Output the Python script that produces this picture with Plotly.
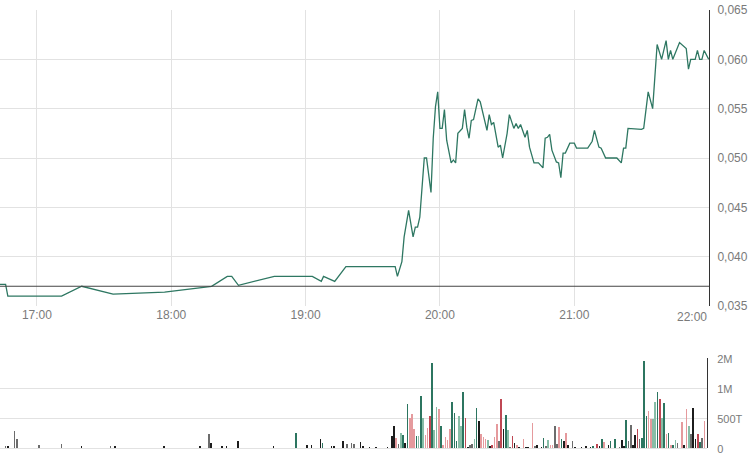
import pandas as pd
import plotly.graph_objects as go

DAY = "2024-05-17 "

# ---------------- price line ----------------
price_times = [
    "16:43", "16:46", "16:47", "17:11", "17:20", "17:34", "17:57", "18:08", "18:18", "18:25",
    "18:27", "18:30", "18:46", "19:03", "19:07", "19:08", "19:13", "19:18", "19:40", "19:41",
    "19:43", "19:44", "19:46", "19:48", "19:49", "19:50", "19:51", "19:53", "19:54", "19:56",
    "19:57", "19:58", "19:59", "20:00", "20:01", "20:02", "20:03", "20:05", "20:06", "20:07",
    "20:08", "20:10", "20:11", "20:12", "20:13", "20:14", "20:15", "20:17", "20:18", "20:21",
    "20:22", "20:23", "20:24", "20:26", "20:27", "20:28", "20:30", "20:31", "20:33", "20:34",
    "20:35", "20:36", "20:37", "20:38", "20:39", "20:40", "20:42", "20:44", "20:46", "20:47",
    "20:48", "20:49", "20:50", "20:52", "20:53", "20:54", "20:55", "20:56", "20:58", "21:00",
    "21:01", "21:06", "21:08", "21:09", "21:11", "21:12", "21:14", "21:19", "21:21", "21:22",
    "21:23", "21:24", "21:30", "21:31", "21:33", "21:35", "21:37", "21:39", "21:41", "21:42",
    "21:43", "21:44", "21:47", "21:50", "21:51", "21:52", "21:54", "21:55", "21:56", "21:57",
    "21:58", "22:00",
]
price_values = [
    0.0372, 0.0372, 0.0360, 0.0360, 0.0370, 0.0362, 0.0364, 0.0367, 0.0370, 0.0380,
    0.0380, 0.0371, 0.0380, 0.0380, 0.0375, 0.0380, 0.0375, 0.0390, 0.0390, 0.0380,
    0.0395, 0.0420, 0.0447, 0.0420, 0.0430, 0.0430, 0.0440, 0.0500, 0.0500, 0.0465,
    0.0520, 0.0552, 0.0567, 0.0530, 0.0530, 0.0549, 0.0518, 0.0495, 0.0498, 0.0495,
    0.0525, 0.0530, 0.0549, 0.0531, 0.0520, 0.0538, 0.0539, 0.0560, 0.0557, 0.0528,
    0.0544, 0.0534, 0.0536, 0.0511, 0.0513, 0.0500, 0.0525, 0.0544, 0.0530, 0.0535,
    0.0530, 0.0534, 0.0528, 0.0521, 0.0528, 0.0511, 0.0495, 0.0495, 0.0490, 0.0520,
    0.0521, 0.0524, 0.0508, 0.0496, 0.0495, 0.0480, 0.0505, 0.0505, 0.0515, 0.0515,
    0.0510, 0.0510, 0.0517, 0.0528, 0.0511, 0.0510, 0.0500, 0.0500, 0.0495, 0.0510,
    0.0510, 0.0530, 0.0529, 0.0530, 0.0567, 0.0550, 0.0615, 0.0600, 0.0619, 0.0600,
    0.0609, 0.0600, 0.0617, 0.0611, 0.0590, 0.0600, 0.0600, 0.0609, 0.0600, 0.0600,
    0.0609, 0.0600,
]
prev_close = 0.037

# ---------------- volume bars (values in thousands) ----------------
vol_times = [
    "16:46", "16:47", "16:50", "16:51", "17:01", "17:11", "17:20", "17:33", "17:35", "17:57",
    "18:13", "18:17", "18:18", "18:23", "18:25", "18:30", "18:46", "18:56", "19:01", "19:03",
    "19:07", "19:08", "19:12", "19:13", "19:17", "19:19", "19:21", "19:22", "19:25", "19:26",
    "19:29", "19:32", "19:37", "19:39", "19:40", "19:41", "19:42", "19:43", "19:44", "19:45",
    "19:46", "19:47", "19:48", "19:49", "19:50", "19:51", "19:52", "19:53", "19:54", "19:55",
    "19:56", "19:57", "19:58", "19:59", "20:00", "20:01", "20:02", "20:03", "20:04", "20:05",
    "20:06", "20:07", "20:08", "20:09", "20:10", "20:11", "20:12", "20:13", "20:14", "20:15",
    "20:16", "20:17", "20:18", "20:19", "20:20", "20:21", "20:22", "20:23", "20:24", "20:25",
    "20:26", "20:27", "20:28", "20:29", "20:30", "20:31", "20:32", "20:33", "20:34", "20:35",
    "20:36", "20:38", "20:39", "20:40", "20:42", "20:43", "20:44", "20:46", "20:47", "20:48",
    "20:49", "20:50", "20:51", "20:52", "20:53", "20:54", "20:55", "20:56", "20:57", "20:58",
    "21:00", "21:01", "21:04", "21:06", "21:08", "21:09", "21:11", "21:12", "21:13", "21:14",
    "21:16", "21:17", "21:19", "21:21", "21:22", "21:23", "21:24", "21:25", "21:26", "21:27",
    "21:28", "21:29", "21:30", "21:31", "21:32", "21:33", "21:34", "21:35", "21:36", "21:37",
    "21:38", "21:39", "21:40", "21:41", "21:42", "21:43", "21:44", "21:45", "21:46", "21:47",
    "21:49", "21:50", "21:51", "21:52", "21:53", "21:54", "21:55", "21:56", "21:57", "21:58",
    "21:59",
]
vol_values = [
    33, 33, 283, 150, 50, 67, 33, 33, 33, 33,
    33, 233, 83, 33, 33, 117, 33, 250, 50, 50,
    150, 83, 33, 33, 117, 67, 83, 67, 100, 33,
    17, 17, 17, 200, 367, 167, 67, 250, 217, 83,
    733, 500, 567, 317, 200, 200, 867, 500, 217, 333,
    533, 1840, 300, 683, 650, 367, 50, 183, 133, 317,
    767, 583, 117, 533, 367, 933, 500, 17, 50, 67,
    150, 667, 450, 233, 183, 150, 133, 33, 50, 183,
    400, 117, 817, 317, 550, 300, 17, 200, 83, 50,
    17, 150, 17, 17, 417, 33, 50, 17, 167, 33,
    133, 50, 50, 367, 67, 350, 150, 117, 250, 50,
    117, 17, 17, 33, 17, 33, 67, 33, 150, 100,
    50, 117, 150, 17, 133, 33, 467, 117, 383, 50,
    217, 317, 150, 167, 1900, 533, 617, 483, 483, 767,
    933, 817, 500, 750, 233, 250, 50, 50, 133, 83,
    433, 50, 650, 367, 233, 667, 150, 233, 100, 167,
    450,
]
# trade tone: dg=up strong, lg=up, r=down strong, p=down, k=neutral, g=neutral light
vol_tone = [
    "g", "k", "g", "g", "g", "g", "k", "g", "k", "k",
    "k", "g", "k", "k", "k", "k", "k", "dg", "k", "k",
    "k", "dg", "k", "k", "k", "g", "g", "g", "k", "k",
    "k", "k", "k", "k", "k", "p", "g", "lg", "dg", "k",
    "dg", "p", "p", "p", "dg", "lg", "dg", "lg", "p", "p",
    "r", "dg", "lg", "lg", "p", "dg", "p", "p", "p", "p",
    "dg", "dg", "dg", "lg", "lg", "dg", "r", "k", "g", "g",
    "lg", "dg", "k", "p", "p", "p", "lg", "k", "r", "p",
    "p", "g", "r", "k", "dg", "lg", "g", "r", "k", "p",
    "k", "p", "k", "k", "p", "g", "k", "k", "dg", "g",
    "lg", "p", "p", "g", "g", "p", "dg", "k", "p", "k",
    "g", "k", "k", "k", "k", "dg", "r", "k", "dg", "p",
    "k", "dg", "dg", "g", "k", "k", "dg", "g", "g", "k",
    "k", "r", "g", "dg", "dg", "dg", "p", "p", "lg", "lg",
    "dg", "r", "lg", "dg", "p", "dg", "p", "dg", "lg", "g",
    "p", "k", "p", "lg", "g", "k", "k", "r", "dg", "g",
    "p",
]
assert len(price_times) == len(price_values)
assert len(vol_times) == len(vol_values) == len(vol_tone)

vol_tick_values = [0, 500, 1000, 2000]
vol_tick_text = ["0", "500T", "1M", "2M"]
price_ticks = [0.035, 0.040, 0.045, 0.050, 0.055, 0.060, 0.065]
hour_ticks = ["17:00", "18:00", "19:00", "20:00", "21:00"]

TONE_COLORS = {"dg": "#2c7560", "lg": "#88bda7", "r": "#bf4753",
               "p": "#e59a9d", "k": "#1c1c1c", "g": "#6c6c6c"}


def vol_scale(v):
    # piecewise scale of the volume panel: 0-1M linear, 1M-2M compressed
    return v / 500.0 if v <= 1000 else 2.0 + (v - 1000) / 1000.0


px_t = pd.to_datetime([DAY + t for t in price_times])
vx_t = pd.to_datetime([DAY + t for t in vol_times])

fig = go.Figure()
fig.add_trace(go.Scatter(
    x=px_t, y=price_values, mode="lines",
    line=dict(color="#2e7762", width=1.3),
    xaxis="x", yaxis="y", hoverinfo="skip",
))
fig.add_trace(go.Bar(
    x=vx_t, y=[vol_scale(v) for v in vol_values],
    marker=dict(color=[TONE_COLORS[t] for t in vol_tone], line=dict(width=0)),
    width=44000, xaxis="x2", yaxis="y2", hoverinfo="skip",
))

x_range = [DAY + "16:43:30", DAY + "22:00:10"]
GRID = "#e2e2e2"
FONT = dict(family="Liberation Sans, Arial, sans-serif", size=12, color="#7a7a7a")
VOL_FONT = dict(family="Liberation Sans, Arial, sans-serif", size=11, color="#7a7a7a")

# plot area spans y = 10 .. 448 px (height 438)
fig.update_layout(
    width=751, height=454,
    margin=dict(l=0, r=42, t=10, b=6, autoexpand=False),
    paper_bgcolor="white", plot_bgcolor="white",
    showlegend=False, separators=", ",
    font=FONT, bargap=0,
    xaxis=dict(
        domain=[0, 1], anchor="y", type="date", range=x_range,
        tickvals=[DAY + h for h in hour_ticks], tickformat="%H:%M",
        showgrid=True, gridcolor=GRID, gridwidth=1, zeroline=False,
        showline=False, ticks="", tickfont=FONT, automargin=False,
    ),
    yaxis=dict(
        domain=[(448 - 306) / 438, 1], anchor="x", side="right", range=[0.035, 0.065],
        tickvals=price_ticks, tickformat=".3f",
        showgrid=True, gridcolor=GRID, gridwidth=1, zeroline=False,
        showline=True, linecolor="#333333", linewidth=1, ticks="",
        ticklabelstandoff=5, tickfont=FONT, automargin=False,
        ticklabeloverflow="allow",
    ),
    xaxis2=dict(
        domain=[0, 707 / 709], anchor="y2", type="date", range=x_range,
        showticklabels=False, showgrid=False, zeroline=False, showline=False, ticks="",
        automargin=False,
    ),
    yaxis2=dict(
        domain=[0, (448 - 358) / 438], anchor="x2", side="right", range=[0, 3],
        tickvals=[vol_scale(v) for v in vol_tick_values], ticktext=vol_tick_text,
        showgrid=True, gridcolor=GRID, gridwidth=1,
        zeroline=True, zerolinecolor=GRID, zerolinewidth=1,
        showline=True, linecolor="#333333", linewidth=1, ticks="",
        ticklabelstandoff=7, ticklabelshift=1, tickfont=VOL_FONT, automargin=False,
        ticklabeloverflow="allow",
    ),
    shapes=[dict(
        type="line", xref="x domain", yref="y", x0=0, x1=1,
        y0=prev_close, y1=prev_close, line=dict(color="#454545", width=1.2),
    )],
    annotations=[dict(
        x=DAY + "22:00", xref="x", y=0, yref="y domain",
        text="22:00", showarrow=False, xanchor="right", yanchor="top",
        yshift=-2, font=FONT,
    )],
)

fig.write_html(
    "out.html",
    config={"displayModeBar": False, "staticPlot": True},
    post_script="document.body.style.margin='0';document.body.style.padding='0';",
)
